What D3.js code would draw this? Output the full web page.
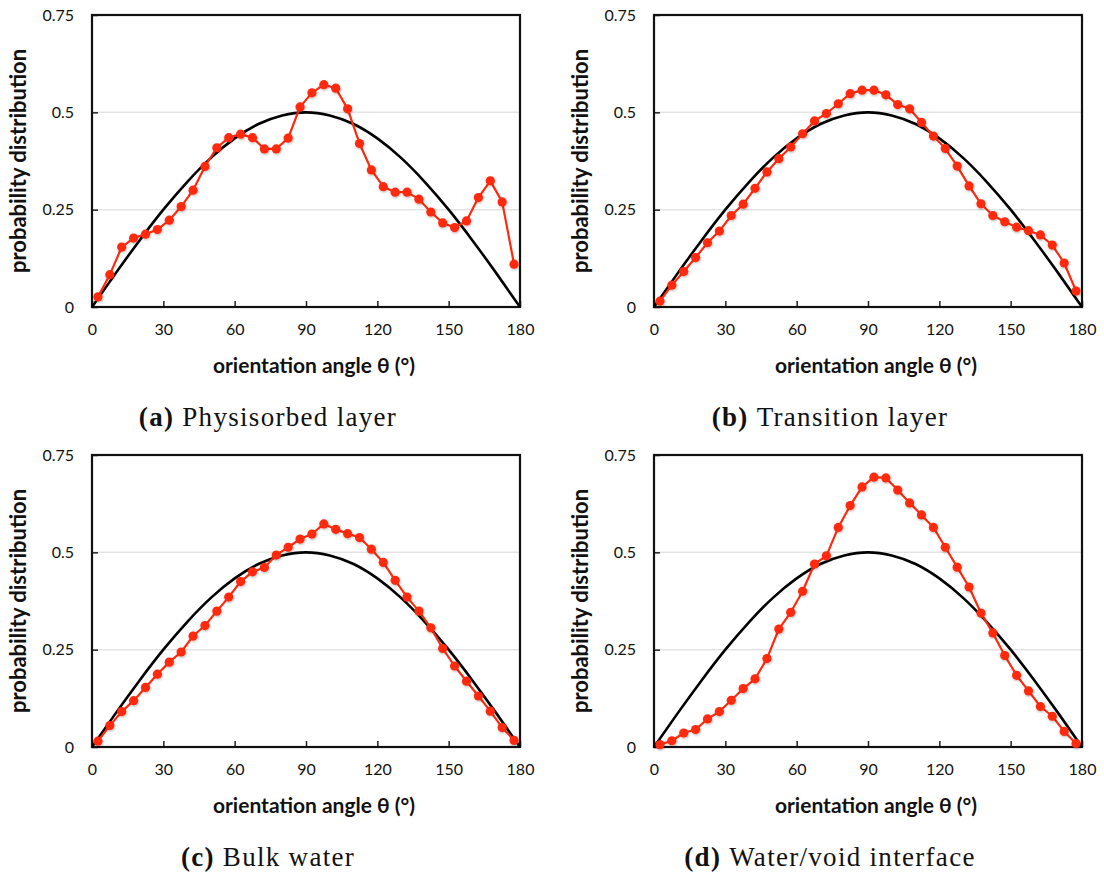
<!DOCTYPE html>
<html>
<head>
<meta charset="utf-8">
<script src="https://cdn.jsdelivr.net/npm/d3@7"></script>
<style>
  body { margin: 0; background: #fff; }
  svg { display: block; }
</style>
</head>
<body>
<svg id="fig" width="1104" height="874"></svg>
<script>
// Bin centres of the orientation-angle histogram (degrees)
const angles = [2.5, 7.5, 12.5, 17.5, 22.5, 27.5, 32.5, 37.5, 42.5, 47.5, 52.5, 57.5,
                62.5, 67.5, 72.5, 77.5, 82.5, 87.5, 92.5, 97.5, 102.5, 107.5, 112.5, 117.5,
                122.5, 127.5, 132.5, 137.5, 142.5, 147.5, 152.5, 157.5, 162.5, 167.5, 172.5, 177.5];

// Probability distribution per layer
const physisorbed = [0.026, 0.083, 0.154, 0.177, 0.187, 0.199, 0.223, 0.258, 0.300, 0.361, 0.409, 0.435,
                     0.444, 0.435, 0.406, 0.406, 0.434, 0.514, 0.550, 0.571, 0.562, 0.509, 0.420, 0.352,
                     0.309, 0.295, 0.295, 0.277, 0.244, 0.216, 0.204, 0.221, 0.281, 0.324, 0.270, 0.110];
const transition  = [0.015, 0.056, 0.091, 0.127, 0.165, 0.195, 0.235, 0.264, 0.305, 0.347, 0.381, 0.411,
                     0.445, 0.478, 0.497, 0.522, 0.548, 0.557, 0.557, 0.545, 0.520, 0.509, 0.474, 0.439,
                     0.407, 0.362, 0.311, 0.265, 0.235, 0.219, 0.205, 0.196, 0.185, 0.159, 0.113, 0.041];
const bulk        = [0.015, 0.055, 0.091, 0.119, 0.153, 0.187, 0.218, 0.244, 0.285, 0.312, 0.349, 0.385,
                     0.425, 0.450, 0.461, 0.493, 0.513, 0.534, 0.547, 0.573, 0.559, 0.548, 0.538, 0.508,
                     0.474, 0.428, 0.385, 0.349, 0.306, 0.253, 0.208, 0.169, 0.131, 0.092, 0.050, 0.017];
const voidIface   = [0.006, 0.016, 0.036, 0.045, 0.072, 0.091, 0.120, 0.150, 0.175, 0.227, 0.303, 0.346,
                     0.400, 0.470, 0.491, 0.564, 0.620, 0.668, 0.693, 0.691, 0.660, 0.627, 0.596, 0.564,
                     0.513, 0.462, 0.411, 0.344, 0.293, 0.235, 0.184, 0.144, 0.104, 0.079, 0.040, 0.009];

// Isotropic reference distribution
const isoAngles = [0, 10, 20, 30, 40, 50, 60, 70, 80, 90, 100, 110, 120, 130, 140, 150, 160, 170, 180];
const isoValues = [0, 0.087, 0.171, 0.25, 0.321, 0.383, 0.433, 0.470, 0.492, 0.5,
                   0.492, 0.470, 0.433, 0.383, 0.321, 0.25, 0.171, 0.087, 0];

// Axis ticks
const xTicks = [0, 30, 60, 90, 120, 150, 180];
const yTicks = [0, 0.25, 0.5, 0.75];
const yTickLabels = ["0", "0.25", "0.5", "0.75"];

const panels = [
  { tag: "(a)", name: "Physisorbed layer",       values: physisorbed, left: 92,  top: 15  },
  { tag: "(b)", name: "Transition layer",        values: transition,  left: 654, top: 15  },
  { tag: "(c)", name: "Bulk water",              values: bulk,        left: 92,  top: 455 },
  { tag: "(d)", name: "Water/void interface",    values: voidIface,   left: 654, top: 455 }
];

const W = 428, H = 292;
const RED = "#ff2a0e";
const sansFont = "Lato, 'Open Sans', sans-serif";

const svg = d3.select("#fig");

// soft shadow under the markers
const defs = svg.append("defs");
defs.append("filter").attr("id", "markShadow")
  .attr("x", "-50%").attr("y", "-50%").attr("width", "200%").attr("height", "200%")
  .append("feDropShadow")
  .attr("dx", 0.6).attr("dy", 1.2).attr("stdDeviation", 1)
  .attr("flood-color", "#000").attr("flood-opacity", 0.28);

panels.forEach(p => {
  const g = svg.append("g").attr("transform", `translate(${p.left},${p.top})`);
  const x = d3.scaleLinear().domain([0, 180]).range([0, W]);
  const y = d3.scaleLinear().domain([0, 0.75]).range([H, 0]);

  // horizontal gridlines
  g.append("g").selectAll("line")
    .data([0.25, 0.5])
    .join("line")
    .attr("x1", 0).attr("x2", W)
    .attr("y1", d => y(d)).attr("y2", d => y(d))
    .attr("stroke", "#e3e3e3").attr("stroke-width", 1.5);

  // x axis (inward ticks)
  const xAxis = g.append("g")
    .attr("transform", `translate(0,${H})`)
    .call(d3.axisBottom(x).tickValues(xTicks).tickFormat(d3.format("d"))
      .tickSizeInner(-6).tickSizeOuter(0).tickPadding(17));
  xAxis.select(".domain").remove();
  xAxis.selectAll("line").attr("stroke", "#222").attr("stroke-width", 1.5);
  xAxis.selectAll("text").attr("font-family", sansFont).attr("font-size", 16).attr("fill", "#111");

  // y axis (inward ticks)
  const yAxis = g.append("g")
    .call(d3.axisLeft(y).tickValues(yTicks).tickFormat((d, i) => yTickLabels[i])
      .tickSizeInner(-6).tickSizeOuter(0).tickPadding(18));
  yAxis.select(".domain").remove();
  yAxis.selectAll("line").attr("stroke", "#222").attr("stroke-width", 1.5);
  yAxis.selectAll("text").attr("font-family", sansFont).attr("font-size", 16).attr("fill", "#111");

  // plot frame
  g.append("rect")
    .attr("x", 0).attr("y", 0).attr("width", W).attr("height", H)
    .attr("fill", "none").attr("stroke", "#111").attr("stroke-width", 2.2);

  // isotropic reference curve
  const isoLine = d3.line()
    .x((d, i) => x(isoAngles[i]))
    .y(d => y(d))
    .curve(d3.curveNatural);
  g.append("path")
    .datum(isoValues)
    .attr("d", isoLine)
    .attr("fill", "none").attr("stroke", "#000").attr("stroke-width", 2.6);

  // simulated distribution
  const dataLine = d3.line()
    .x((d, i) => x(angles[i]))
    .y(d => y(d));
  g.append("path")
    .datum(p.values)
    .attr("d", dataLine)
    .attr("fill", "none").attr("stroke", RED).attr("stroke-width", 2.2)
    .attr("stroke-linejoin", "round");
  g.append("g").attr("filter", "url(#markShadow)")
    .selectAll("circle")
    .data(p.values)
    .join("circle")
    .attr("cx", (d, i) => x(angles[i]))
    .attr("cy", d => y(d))
    .attr("r", 4.6)
    .attr("fill", RED);

  // axis titles
  g.append("text")
    .attr("x", W / 2 + 8).attr("y", H + 66)
    .attr("text-anchor", "middle")
    .attr("font-family", sansFont).attr("font-weight", "bold").attr("font-size", 21)
    .attr("fill", "#111")
    .text("orientation angle θ (°)");
  g.append("text")
    .attr("transform", `translate(${-74},${H / 2}) rotate(-90)`)
    .attr("text-anchor", "middle").attr("dy", "0.35em")
    .attr("font-family", sansFont).attr("font-weight", "bold").attr("font-size", 22)
    .attr("fill", "#111")
    .text("probability distribution");

  // sub-figure caption
  const cap = g.append("text")
    .attr("x", W / 2 - 38).attr("y", H + 119)
    .attr("text-anchor", "middle")
    .attr("font-family", "'Liberation Serif', 'DejaVu Serif', serif").attr("font-size", 27)
    .attr("letter-spacing", 1.3)
    .attr("fill", "#111");
  cap.append("tspan").attr("font-weight", "bold").text(p.tag);
  cap.append("tspan").text("\u00a0" + p.name);
});
</script>
</body>
</html>
